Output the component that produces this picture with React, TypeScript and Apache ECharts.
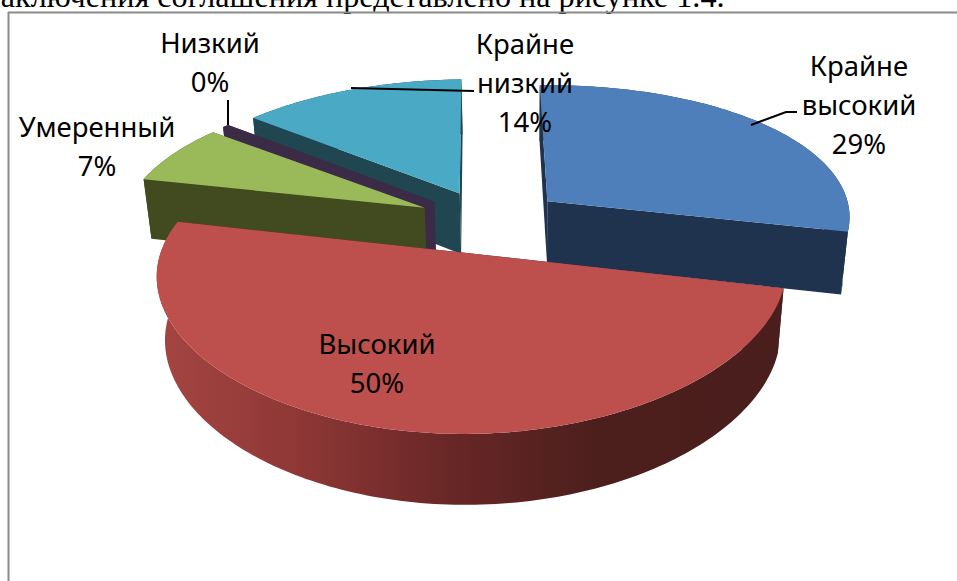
import React, { useEffect, useRef } from "react";
import * as echarts from "echarts";

const categories = ["Крайне\nвысокий", "Высокий", "Умеренный", "Низкий", "Крайне\nнизкий"];
const values = [29, 50, 7, 0.4, 13.6];
const topColors = ["#4f7fbb", "#bd4f4c", "#9aba59", "#3b2b47", "#4aa9c4"];
const wallColors = ["#1f334f", "#4a1e1c", "#424a20", "#3b2b47", "#1f4651"];
const paintOrder = [4, 0, 3, 2, 1];
const labelAnchors = [[859, 104], [377, 363], [97, 146], [210, 62], [525, 82]];
const leaders = [
  [[751, 125], [786, 112], [797, 112]],
  [],
  [],
  [[228, 100], [228, 125]],
  [[351, 88], [474, 91]],
];

const CX = 490, CY = 219, H = 0.21, EXPLODE = 0.23, EXPLODE_X = 1.06, ROLL = 0.013, CURVE = 2.2;
const TILT = 25.7 * Math.PI / 180;
const S = Math.sin(TILT), C = Math.cos(TILT);
const FY = 1667, DY = 5.2, FX = 2280, DX = 7.5, WALL = 539, DZ = 8.7;
const total = values.reduce((a, b) => a + b, 0);

function project(X: number, Y: number, Z: number): number[] {
  const dx = DX + Y * C - Z * 1.8 * S;
  const px = (FX * X) / dx;
  const py = -(FY * Y * S) / (DY + Y * C) - ((Z / H) * WALL) / (DZ + Y * C) + CURVE * (1 - Y * Y);
  return [CX + px + ROLL * py, CY + py - ROLL * px];
}

function renderSlice(_: any, api: any) {
  const value = api.value(0);
  const idx = api.value(1);
  let before = 0;
  for (let i = 0; i < idx; i++) before += values[i];
  const a0 = (before / total) * Math.PI * 2;
  const a1 = ((before + value) / total) * Math.PI * 2;
  const mid = (a0 + a1) / 2;
  const ox = Math.sin(mid) * EXPLODE * EXPLODE_X, oy = Math.cos(mid) * EXPLODE;
  const steps = Math.max(2, Math.ceil((a1 - a0) / 0.02));
  const rimTop: number[][] = [], rimBottom: number[][] = [];
  for (let k = 0; k <= steps; k++) {
    const a = a0 + ((a1 - a0) * k) / steps;
    rimTop.push(project(ox + Math.sin(a), oy + Math.cos(a), 0));
    rimBottom.push(project(ox + Math.sin(a), oy + Math.cos(a), -H));
  }
  const tipTop = project(ox, oy, 0), tipBottom = project(ox, oy, -H);
  const wallFill: any = idx === 1
    ? new echarts.graphic.LinearGradient(0, 0, 1, 0, [
        { offset: 0, color: "#a54542" },
        { offset: 0.22, color: "#8f3836" },
        { offset: 0.47, color: "#682726" },
        { offset: 0.7, color: "#4c1f1d" },
        { offset: 1, color: "#4a1e1c" },
      ])
    : wallColors[idx];
  const poly = (points: number[][], fill: any) => ({ type: "polygon", shape: { points }, style: { fill } });
  return {
    type: "group",
    children: [
      poly([tipTop, rimTop[0], rimBottom[0], tipBottom], wallColors[idx]),
      poly([tipTop, rimTop[steps], rimBottom[steps], tipBottom], wallColors[idx]),
      poly([...rimTop, ...rimBottom.slice().reverse()], wallFill),
      poly([tipTop, ...rimTop], topColors[idx]),
    ],
  };
}

const labelFont = '"Noto Sans", sans-serif';

export default function App() {
  const ref = useRef<HTMLDivElement>(null);
  useEffect(() => {
    const chart = echarts.init(ref.current!, undefined, { renderer: "svg" });
    const labels = categories.map((c, i) => ({
      type: "text",
      z: 100,
      x: labelAnchors[i][0],
      y: labelAnchors[i][1],
      style: {
        text: `${c}\n${Math.round(values[i])}%`,
        fontFamily: labelFont,
        fontSize: 27.5,
        lineHeight: 39,
        fill: "#000",
        align: "center",
        verticalAlign: "middle",
      },
    }));
    const lines = leaders.filter((l) => l.length).map((l) => ({
      type: "polyline",
      z: 99,
      shape: { points: l },
      style: { stroke: "#000", lineWidth: 2, fill: "none" },
    }));
    chart.setOption({
      animation: false,
      backgroundColor: "#fff",
      series: [
        {
          type: "custom",
          coordinateSystem: "none",
          silent: true,
          renderItem: renderSlice,
          data: paintOrder.map((i) => [values[i], i]),
        },
      ],
      graphic: [
        {
          type: "text",
          z: 1,
          x: -12,
          y: 12,
          style: {
            text: "заключения соглашения представлено на рисунке 1.4.",
            fontFamily: '"Liberation Serif", serif',
            fontSize: 32.2,
            fill: "#000",
            align: "left",
            verticalAlign: "bottom",
          },
        },
        { type: "line", z: 1, shape: { x1: 8, y1: 12.5, x2: 957, y2: 12.5 }, style: { stroke: "#8a8a8a", lineWidth: 2 } },
        { type: "line", z: 1, shape: { x1: 8.5, y1: 12, x2: 8.5, y2: 581 }, style: { stroke: "#8a8a8a", lineWidth: 2 } },
        ...lines,
        ...labels,
      ],
    });
    return () => chart.dispose();
  }, []);
  return <div ref={ref} style={{ position: "absolute", left: 0, top: 0, width: 957, height: 581 }} />;
}
